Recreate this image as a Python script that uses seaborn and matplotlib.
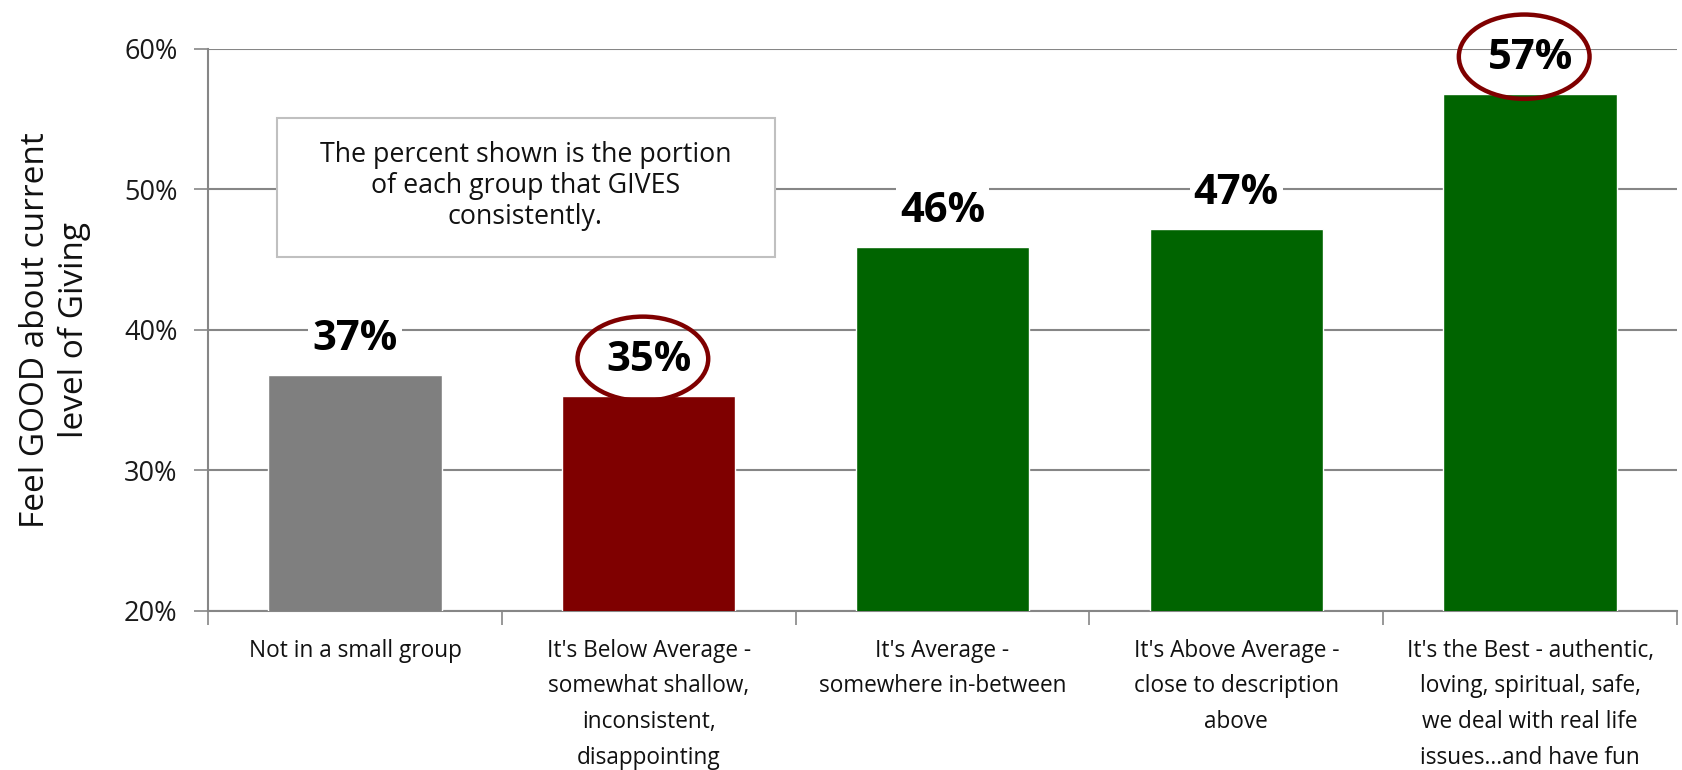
import matplotlib
matplotlib.use("Agg")
import matplotlib.pyplot as plt
from matplotlib.patches import Ellipse, Rectangle
import seaborn as sns
import pandas as pd
import numpy as np

categories = [
    "Not in a small group",
    "It's Below Average -\nsomewhat shallow,\ninconsistent,\ndisappointing",
    "It's Average -\nsomewhere in-between",
    "It's Above Average -\nclose to description\nabove",
    "It's the Best - authentic,\nloving, spiritual, safe,\nwe deal with real life\nissues...and have fun",
]
values = [36.8, 35.3, 45.9, 47.2, 56.8]
value_labels = ["37%", "35%", "46%", "47%", "57%"]
bar_colors = ["#7f7f7f", "#7f0000", "#006400", "#006400", "#006400"]
circled = [False, True, False, False, True]
y_ticks = [20, 30, 40, 50, 60]
y_tick_labels = ["20%", "30%", "40%", "50%", "60%"]
y_label = "Feel GOOD about current\nlevel of Giving"
note_text = "The percent shown is the portion\nof each group that GIVES\nconsistently."

sns.set_theme(style="white")
plt.rcParams["font.family"] = ["Open Sans", "DejaVu Sans"]

fig = plt.figure(figsize=(16.82, 7.70), dpi=100)
ax = fig.add_axes([0.1237, 0.2065, 0.8733, 0.7299])

df = pd.DataFrame({"cat": categories, "val": values})
sns.barplot(data=df, x="cat", y="val", hue="cat", palette=bar_colors,
            legend=False, width=0.59, saturation=1, ax=ax, zorder=3)

ax.set_ylim(20, 60)
ax.set_xlim(-0.5, len(categories) - 0.5)
ax.set_yticks(y_ticks)
ax.set_yticklabels(y_tick_labels, fontsize=19.5, color="#1a1a1a")
ax.set_xticks(range(len(categories)))
ax.set_xticklabels(categories, fontsize=16.3, color="#111111", linespacing=1.65)
ax.set_xticks(np.arange(-0.5, len(categories), 1.0), minor=True)
ax.tick_params(axis="x", which="major", length=0, pad=20)
ax.tick_params(axis="x", which="minor", length=10, width=1.2, color="#868686", direction="out", bottom=True)
ax.tick_params(axis="y", which="major", length=10, width=1.2, color="#868686", direction="out", left=True, pad=12)
ax.set_xlabel("")
ax.set_ylabel(y_label, fontsize=24, color="#111111", labelpad=24, linespacing=1.2)

ax.yaxis.grid(True, color="#868686", linewidth=1.5, zorder=0)
ax.set_axisbelow(True)
for s in ["top", "right"]:
    ax.spines[s].set_visible(False)
for s in ["left", "bottom"]:
    ax.spines[s].set_color("#868686")
    ax.spines[s].set_linewidth(1.5)

for i, (v, lab, c) in enumerate(zip(values, value_labels, circled)):
    ty = v + 2.5
    ax.text(i, ty, lab, ha="center", va="center", fontsize=30, fontweight="bold",
            color="black", zorder=5,
            bbox=dict(boxstyle="square,pad=0.1", fc="white", ec="none") if not c else None)
    if c:
        e = Ellipse((i - 0.02, ty + 0.15), width=0.445, height=6.0, fill=False,
                    edgecolor="#7f0000", linewidth=3.2, zorder=6, clip_on=False)
        ax.add_patch(e)

# note box (annotation)
ax.add_patch(Rectangle((-0.265, 45.2), 1.695, 9.9, facecolor="white",
                       edgecolor="#c0c0c0", linewidth=1.5, zorder=6))
ax.text(0.58, 50.25, note_text, ha="center", va="center", fontsize=19.3,
        color="#111111", linespacing=1.15, zorder=7)

fig.savefig("out.png", dpi=100)
